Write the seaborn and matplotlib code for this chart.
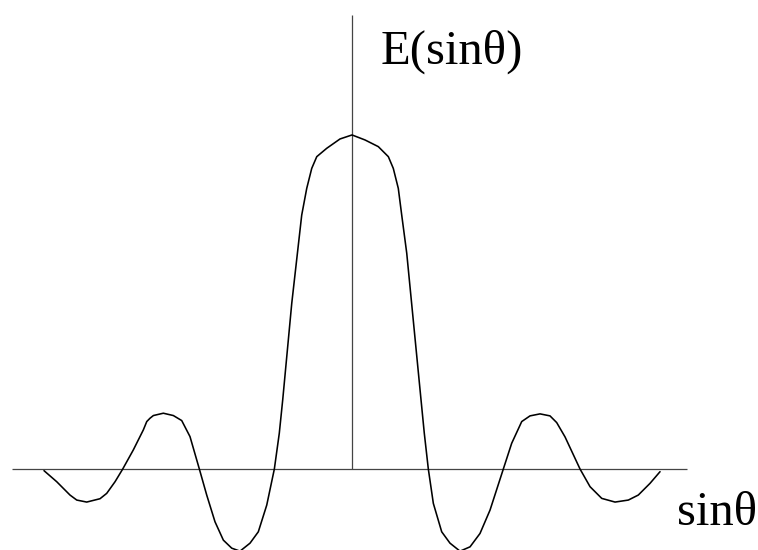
import matplotlib
matplotlib.use("Agg")
import matplotlib.pyplot as plt
import seaborn as sns
import pandas as pd

# Diffraction-pattern field amplitude E versus sin(theta)
# (sin(theta) in units of the first zero, E normalised to the central peak)
sin_theta = [
    -4.053, -3.886, -3.711, -3.622, -3.491, -3.316, -3.228, -3.118, -3.017,
    -2.878, -2.746, -2.701, -2.658, -2.614, -2.483, -2.351, -2.241, -2.132,
    -2.009, -1.912, -1.803, -1.693, -1.583, -1.474, -1.342, -1.233, -1.122,
    -1.022, -0.957, -0.912, -0.793, -0.662, -0.596, -0.530, -0.464, -0.333,
    -0.158, 0.000,
    0.171, 0.346, 0.478, 0.543, 0.609, 0.654, 0.720, 0.908, 0.951,
    1.004, 1.070, 1.180, 1.289, 1.421, 1.553, 1.684, 1.816, 1.991,
    2.101, 2.233, 2.342, 2.474, 2.605, 2.693, 2.803, 3.000, 3.132,
    3.286, 3.461, 3.636, 3.767, 3.921, 4.053,
]
amplitude = [
    -0.005, -0.038, -0.078, -0.093, -0.099, -0.089, -0.073, -0.038, 0.000,
    0.057, 0.117, 0.142, 0.152, 0.160, 0.167, 0.160, 0.145, 0.097,
    0.000, -0.078, -0.158, -0.213, -0.237, -0.246, -0.222, -0.188, -0.108,
    0.000, 0.107, 0.207, 0.496, 0.760, 0.840, 0.900, 0.935, 0.960,
    0.988, 1.000,
    0.985, 0.965, 0.935, 0.900, 0.840, 0.760, 0.646, 0.207, 0.107,
    0.000, -0.103, -0.188, -0.222, -0.246, -0.233, -0.193, -0.123, 0.000,
    0.077, 0.142, 0.159, 0.165, 0.159, 0.139, 0.096, 0.000, -0.053,
    -0.088, -0.099, -0.093, -0.078, -0.043, -0.008,
]

y_label = "E(sinθ)"
x_label = "sinθ"

df = pd.DataFrame({"sin_theta": sin_theta, "E": amplitude})

sns.set_theme(style="white")
plt.rcParams["font.family"] = ["Liberation Serif", "DejaVu Serif"]

fig = plt.figure(figsize=(7.58, 5.5), dpi=100)
ax = fig.add_axes([0, 0, 1, 1])

# Coordinate axes drawn through the origin
ax.hlines(0, -4.474, 4.404, color="#444444", lw=0.9, zorder=1)
ax.vlines(0, 0, 1.359, color="#444444", lw=0.9, zorder=1)

sns.lineplot(data=df, x="sin_theta", y="E", sort=False, color="black",
             lw=1.15, ax=ax, zorder=2)

ax.text(0.378, 1.215, y_label, fontsize=35, ha="left", va="baseline",
        color="black")
ax.text(4.272, -0.168, x_label, fontsize=35, ha="left", va="baseline",
        color="black")

ax.set_xlim(-4.632, 5.342)
ax.set_ylim(-0.2425, 1.404)
ax.set_axis_off()

fig.savefig("out.png", dpi=100, facecolor="white")
